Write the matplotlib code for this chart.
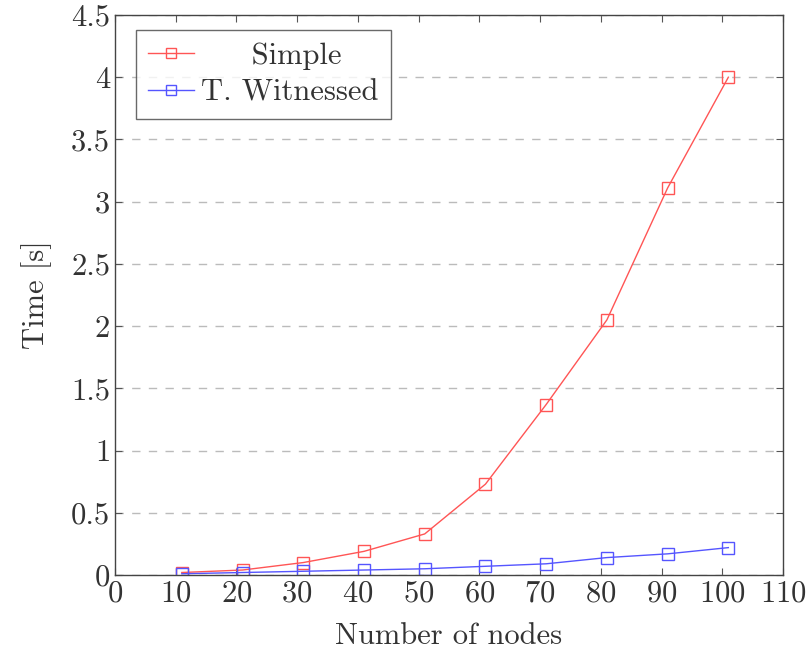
import matplotlib
matplotlib.use('Agg')
import matplotlib.pyplot as plt

nodes = [11, 21, 31, 41, 51, 61, 71, 81, 91, 101]
simple = [0.02, 0.04, 0.10, 0.19, 0.33, 0.73, 1.37, 2.05, 3.11, 4.00]
witnessed = [0.01, 0.02, 0.03, 0.04, 0.05, 0.07, 0.09, 0.14, 0.17, 0.22]

x_ticks = list(range(0, 111, 10))
y_ticks = [0, 0.5, 1, 1.5, 2, 2.5, 3, 3.5, 4, 4.5]
y_labels = ['0', '0.5', '1', '1.5', '2', '2.5', '3', '3.5', '4', '4.5']

plt.rcParams['font.family'] = 'serif'
plt.rcParams['font.serif'] = ['cmr10']
plt.rcParams['mathtext.fontset'] = 'cm'
plt.rcParams['axes.formatter.use_mathtext'] = True

fig = plt.figure(figsize=(8.11, 6.5), dpi=100)
ax = fig.add_axes([115 / 811, 75 / 650, 668 / 811, 560 / 650])

# "Simple" is centred in the legend, as pgfplots does
ax.plot(nodes, simple, color='#ff5555', lw=1.0, marker='s', ms=9,
        mfc='none', mew=1.0, label='     Simple')
ax.plot(nodes, witnessed, color='#5555ff', lw=1.0, marker='s', ms=9,
        mfc='none', mew=1.0, label='T. Witnessed')

ax.set_xlim(0, 110)
ax.set_ylim(0, 4.5)
ax.set_xticks(x_ticks)
ax.set_yticks(y_ticks)
ax.set_yticklabels(y_labels)
ax.tick_params(direction='in', top=True, right=True, labelsize=22,
               length=5, color='#555555', labelcolor='#333333')
ax.yaxis.grid(True, linestyle=(0, (6, 6)), color='#bbbbbb', lw=1.0)
ax.set_axisbelow(True)
for s in ax.spines.values():
    s.set_color('#444444')
    s.set_linewidth(1.0)

ax.set_xlabel('Number of nodes', fontsize=22, labelpad=11, color='#333333')
ax.set_ylabel('Time [s]', fontsize=22, labelpad=14, color='#333333')

leg = ax.legend(loc='upper left', fontsize=22, fancybox=False,
                edgecolor='#444444', handlelength=1.5, borderpad=0.4,
                labelspacing=0.3, handletextpad=0.25, borderaxespad=0,
                bbox_to_anchor=(0.031, 0.973))
leg.get_frame().set_linewidth(1.0)
for t in leg.get_texts():
    t.set_color('#333333')
for h in leg.get_lines():
    h.set_markersize(7)

plt.savefig('out.png')
